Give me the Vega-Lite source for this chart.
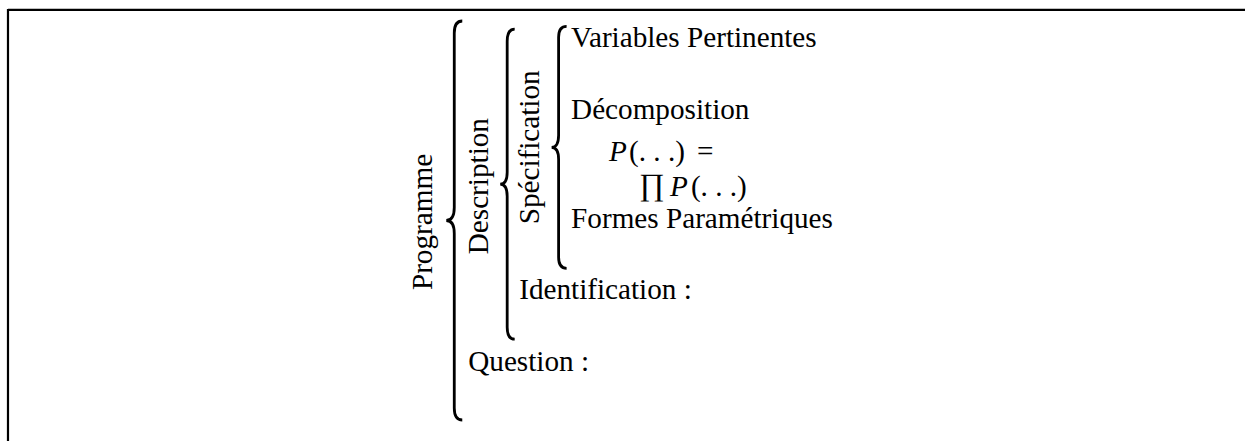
{
  "$schema": "https://vega.github.io/schema/vega-lite/v6.json",
  "autosize": {"type": "fit", "contains": "padding"},
  "width": 1247,
  "height": 443,
  "padding": 0,
  "background": "white",
  "config": {
    "view": {"stroke": null},
    "text": {"font": "Liberation Serif", "fontSize": 29.2, "color": "black"}
  },
  "datasets": {
    "frame": [
      {"x": 8, "y": 10, "x2": 1247, "y2": 10},
      {"x": 8, "y": 9, "x2": 8, "y2": 443}
    ],
    "braces": [
      {"b": "Programme", "x": 455, "y": 221.5},
      {"b": "Description", "x": 508, "y": 185},
      {"b": "Spécification", "x": 559.5, "y": 148}
    ],
    "labels": [
      {"t": "Variables Pertinentes", "x": 572, "y": 47},
      {"t": "Décomposition", "x": 572, "y": 120},
      {"t": "Formes Paramétriques", "x": 572, "y": 229},
      {"t": "Identification :", "x": 520, "y": 300},
      {"t": "Question :", "x": 469, "y": 373}
    ],
    "rot": [
      {"t": "Programme", "x": 433, "y": 223},
      {"t": "Description", "x": 489, "y": 187},
      {"t": "Spécification", "x": 540, "y": 148}
    ],
    "ital": [
      {"t": "P", "x": 610, "y": 161.5},
      {"t": "P", "x": 671, "y": 197}
    ],
    "math": [
      {"t": "(. . .)", "x": 630, "y": 161.5},
      {"t": "=", "x": 698, "y": 161.5},
      {"t": "(. . .)", "x": 692, "y": 197}
    ],
    "prod": [
      {"t": "∏", "x": 640, "y": 196.3}
    ]
  },
  "encoding": {
    "x": {"field": "x", "type": "quantitative", "scale": {"domain": [0, 1247], "nice": false, "zero": false}, "axis": null},
    "y": {"field": "y", "type": "quantitative", "scale": {"domain": [0, 443], "nice": false, "zero": false, "reverse": true}, "axis": null}
  },
  "layer": [
    {
      "data": {"name": "frame"},
      "mark": {"type": "rule", "color": "black", "strokeWidth": 2.2},
      "encoding": {
        "x2": {"field": "x2"},
        "y2": {"field": "y2"}
      }
    },
    {
      "data": {"name": "braces"},
      "transform": [{"filter": "datum.b === 'Programme'"}],
      "mark": {"type": "point", "filled": false, "opacity": 1, "stroke": "black", "strokeWidth": 2.8, "size": 4,
        "shape": "M 8,-199.5 Q 0,-199.5 0,-187.5 L 0,-13 Q 0,0 -8,0 Q 0,0 0,13 L 0,187.5 Q 0,199.5 8,199.5"}
    },
    {
      "data": {"name": "braces"},
      "transform": [{"filter": "datum.b === 'Description'"}],
      "mark": {"type": "point", "filled": false, "opacity": 1, "stroke": "black", "strokeWidth": 2.8, "size": 4,
        "shape": "M 7.5,-155 Q 0,-155 0,-143 L 0,-12 Q 0,0 -7,0 Q 0,0 0,12 L 0,143 Q 0,155 7.5,155"}
    },
    {
      "data": {"name": "braces"},
      "transform": [{"filter": "datum.b === 'Spécification'"}],
      "mark": {"type": "point", "filled": false, "opacity": 1, "stroke": "black", "strokeWidth": 2.8, "size": 4,
        "shape": "M 8,-121 Q 0,-121 0,-110 L 0,-12 Q 0,0 -7,0 Q 0,0 0,12 L 0,110 Q 0,121 8,121"}
    },
    {
      "data": {"name": "labels"},
      "mark": {"type": "text", "align": "left", "baseline": "alphabetic"},
      "encoding": {"text": {"field": "t"}}
    },
    {
      "data": {"name": "rot"},
      "mark": {"type": "text", "align": "center", "baseline": "alphabetic", "angle": 270},
      "encoding": {"text": {"field": "t"}}
    },
    {
      "data": {"name": "ital"},
      "mark": {"type": "text", "align": "left", "baseline": "alphabetic", "fontStyle": "italic"},
      "encoding": {"text": {"field": "t"}}
    },
    {
      "data": {"name": "math"},
      "mark": {"type": "text", "align": "left", "baseline": "alphabetic"},
      "encoding": {"text": {"field": "t"}}
    },
    {
      "data": {"name": "prod"},
      "mark": {"type": "text", "align": "left", "baseline": "alphabetic", "fontSize": 31},
      "encoding": {"text": {"field": "t"}}
    }
  ]
}
